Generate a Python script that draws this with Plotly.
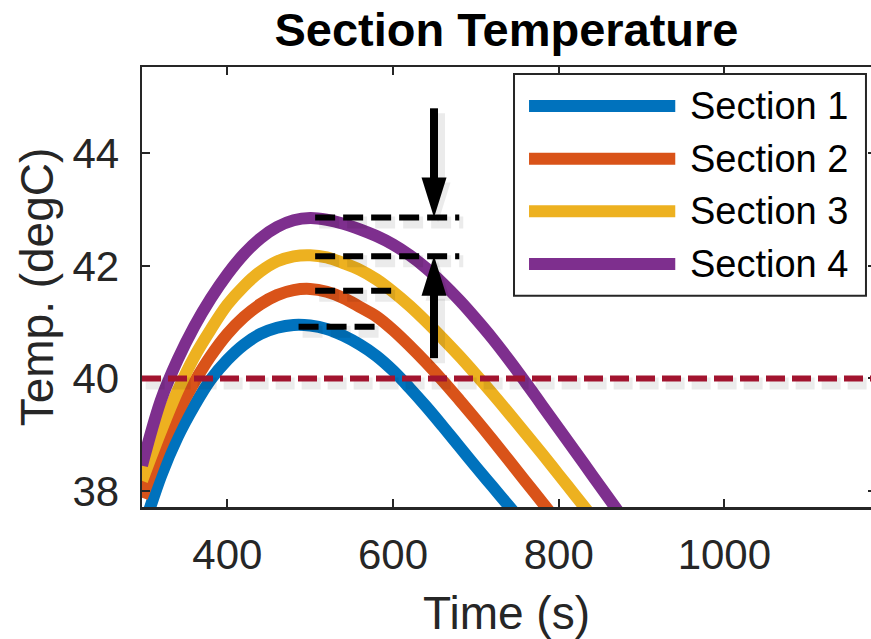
import plotly.graph_objects as go

# ---------------- data ----------------
series_names = ["Section 1", "Section 2", "Section 3", "Section 4"]
series_colors = ["#0072BD", "#D95319", "#EDB120", "#7E2F8E"]

t_section1 = [297, 300, 320, 340, 360, 380, 400, 420, 440, 460, 480, 500, 520, 540, 560, 580, 600,
              620, 640, 660, 680, 700, 720, 740, 760]
T_section1 = [37.27, 37.40, 38.27, 38.96, 39.51, 39.98, 40.33, 40.60, 40.79, 40.90, 40.95, 40.94, 40.88,
              40.76, 40.60, 40.40, 40.14, 39.83, 39.50, 39.15, 38.79, 38.43, 38.08, 37.73, 37.38]

t_section2 = [297, 300, 320, 340, 360, 380, 400, 420, 440, 460, 480, 500, 520, 540, 560, 580, 600,
              620, 640, 660, 680, 700, 720, 740, 760, 780, 800]
T_section2 = [37.88, 38.00, 38.77, 39.39, 39.93, 40.40, 40.79, 41.09, 41.32, 41.48, 41.57, 41.59, 41.54,
              41.43, 41.27, 41.10, 40.86, 40.58, 40.28, 39.96, 39.62, 39.27, 38.91, 38.54, 38.17, 37.80, 37.43]

t_section3 = [297, 300, 320, 340, 360, 380, 400, 420, 440, 460, 480, 500, 520, 540, 560, 580, 600,
              620, 640, 660, 680, 700, 720, 740, 760, 780, 800, 820, 840]
T_section3 = [38.18, 38.30, 39.07, 39.78, 40.38, 40.87, 41.31, 41.64, 41.90, 42.08, 42.17, 42.19, 42.15,
              42.05, 41.93, 41.76, 41.54, 41.29, 41.01, 40.71, 40.40, 40.07, 39.73, 39.38, 39.02, 38.66,
              38.29, 37.92, 37.55]

t_section4 = [297, 300, 320, 340, 360, 380, 400, 420, 440, 460, 480, 500, 520, 540, 560, 580, 600,
              620, 640, 660, 680, 700, 720, 740, 760, 780, 800, 820, 840, 860, 880]
T_section4 = [38.45, 38.62, 39.62, 40.33, 40.92, 41.42, 41.85, 42.21, 42.49, 42.69, 42.81, 42.85, 42.82,
              42.75, 42.65, 42.53, 42.38, 42.19, 41.96, 41.69, 41.39, 41.06, 40.71, 40.33, 39.93, 39.52,
              39.11, 38.70, 38.29, 37.88, 37.47]

series_t = [t_section1, t_section2, t_section3, t_section4]
series_T = [T_section1, T_section2, T_section3, T_section4]

threshold_T = 40
peak_T = [40.92, 41.56, 42.17, 42.86]
peak_t_start = [486, 506, 506, 506]
peak_t_end = [582, 602, 680, 680]

arrow_t = 649.5
arrow_down_T = [44.80, 42.86]   # tail, tip
arrow_up_T = [40.36, 42.18]     # tail, tip

x_range = [297, 1177]
y_range = [37.715, 45.534]
x_ticks = [400, 600, 800, 1000]
y_ticks = [38, 40, 42, 44]

title_text = "Section Temperature"
x_title = "Time (s)"
y_title = "Temp. (degC)"

# ---------------- layout geometry ----------------
W, H = 871, 639
M_L, M_R, M_T, M_B = 142, 0, 67, 132
plot_w = W - M_L - M_R
plot_h = H - M_T - M_B
ppu_x = plot_w / (x_range[1] - x_range[0])
ppu_y = plot_h / (y_range[1] - y_range[0])

FONT = "Liberation Sans, Arial, Helvetica, sans-serif"
AX = "#262626"
SHADOW = "rgba(0,0,0,0.08)"
sdx, sdy = 4 / ppu_x, -5 / ppu_y   # shadow offset in data units

fig = go.Figure()

for t, T, name, c in zip(series_t, series_T, series_names, series_colors):
    fig.add_trace(go.Scatter(x=t, y=T, name=name, mode="lines",
                             line=dict(color=c, width=12, shape="spline", smoothing=1.0),
                             showlegend=False, hoverinfo="skip"))

# dummy trace for right-hand tick marks
fig.add_trace(go.Scatter(x=[], y=[], yaxis="y2", showlegend=False, hoverinfo="skip"))

shapes = []
# shadow + threshold line
shapes.append(dict(type="line", xref="x domain", yref="y", x0=0.005, x1=1.0,
                   y0=threshold_T + sdy, y1=threshold_T + sdy, layer="above",
                   line=dict(color=SHADOW, width=12, dash="19px,7px")))
shapes.append(dict(type="line", xref="x domain", yref="y", x0=0, x1=1,
                   y0=threshold_T, y1=threshold_T, layer="above",
                   line=dict(color="#A2142F", width=6, dash="19px,7px")))

# peak dashed lines
for y, a, b in zip(peak_T, peak_t_start, peak_t_end):
    shapes.append(dict(type="line", xref="x", yref="y", x0=a + sdx, x1=b + sdx,
                       y0=y + sdy, y1=y + sdy, layer="above",
                       line=dict(color=SHADOW, width=12, dash="20px,8px")))
for y, a, b in zip(peak_T, peak_t_start, peak_t_end):
    shapes.append(dict(type="line", xref="x", yref="y", x0=a, x1=b, y0=y, y1=y, layer="above",
                       line=dict(color="black", width=6, dash="20px,8px")))

# arrows
HEAD_L, HEAD_W = 40, 25
for (tail, tip) in (arrow_down_T, arrow_up_T):
    sgn = 1 if tail > tip else -1
    base = tip + sgn * (HEAD_L - 2) / ppu_y
    for shadow in (True, False):
        ox, oy = (sdx, sdy) if shadow else (0, 0)
        col = SHADOW if shadow else "black"
        shapes.append(dict(type="line", xref="x", yref="y", x0=arrow_t + ox, x1=arrow_t + ox,
                           y0=tail + oy, y1=base + oy, layer="above",
                           line=dict(color=col, width=14 if shadow else 8)))
        shapes.append(dict(type="path", xref="x", yref="y", xsizemode="pixel", ysizemode="pixel",
                           xanchor=arrow_t + ox, yanchor=tip + oy, layer="above",
                           path=f"M0,0 L{-HEAD_W/2},{sgn*HEAD_L} L{HEAD_W/2},{sgn*HEAD_L} Z",
                           fillcolor=col, line=dict(width=0)))

# custom legend (long line samples like the original)
leg_x0, leg_x1, leg_y0, leg_y1 = 0.5103, 0.9931, 0.4802, 0.9841
shapes.append(dict(type="rect", xref="paper", yref="paper", x0=leg_x0, x1=leg_x1, y0=leg_y0, y1=leg_y1,
                   fillcolor="white", line=dict(color=AX, width=2), layer="above"))
row_y = [0.9114, 0.7916, 0.6720, 0.5523]
annotations = []
for name, c, ry in zip(series_names, series_colors, row_y):
    shapes.append(dict(type="line", xref="paper", yref="paper", x0=0.5309, x1=0.7315, y0=ry, y1=ry,
                       line=dict(color=c, width=12), layer="above"))
    annotations.append(dict(xref="paper", yref="paper", x=0.7494, y=ry, text=name, showarrow=False,
                            xanchor="left", yanchor="middle", font=dict(family=FONT, size=38, color="black")))

fig.update_layout(
    template="none",
    width=W, height=H, margin=dict(l=M_L, r=M_R, t=M_T, b=M_B, autoexpand=False),
    paper_bgcolor="white", plot_bgcolor="white",
    font=dict(family=FONT, color=AX),
    hovermode=False,
    title=dict(text=title_text, x=0.5, xref="paper", y=1 - 30 / H, yref="container",
               xanchor="center", yanchor="middle",
               font=dict(family=FONT, size=47, color="black", weight="bold")),
    xaxis=dict(range=x_range, tickvals=x_ticks, ticks="inside", ticklen=8, tickwidth=2, tickcolor=AX,
               showline=True, linecolor=AX, linewidth=2.5, mirror="ticks", showgrid=False, zeroline=False,
               automargin=False,
               tickfont=dict(size=42, color=AX), ticklabelstandoff=9,
               title=dict(text=x_title, font=dict(size=46, color=AX), standoff=42)),
    yaxis=dict(range=y_range, tickvals=y_ticks, ticks="inside", ticklen=8, tickwidth=2, tickcolor=AX,
               showline=True, linecolor=AX, linewidth=2.5, mirror=False, showgrid=False, zeroline=False,
               automargin=False,
               tickfont=dict(size=42, color=AX), ticklabelstandoff=12,
               title=dict(text=y_title, font=dict(size=46, color=AX), standoff=5)),
    yaxis2=dict(range=y_range, tickvals=y_ticks, overlaying="y", side="right", ticks="inside",
                ticklen=3, tickwidth=2, tickcolor=AX, showticklabels=False, showline=False,
                showgrid=False, zeroline=False, automargin=False),
    shapes=shapes, annotations=annotations, showlegend=False,
)

fig.write_html("out.html", config={"displayModeBar": False, "staticPlot": True},
               post_script="document.body.style.margin='0';document.body.style.overflow='hidden';")
